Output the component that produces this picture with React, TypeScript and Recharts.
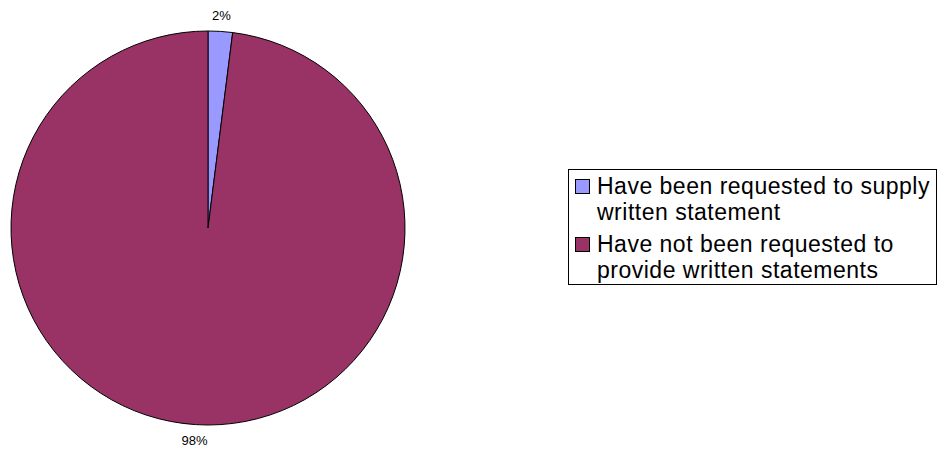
import { PieChart, Pie, Cell, Legend } from 'recharts';

const categories = [
  'Have been requested to supply written statement',
  'Have not been requested to provide written statements',
];
const legendLines = [
  ['Have been requested to supply', 'written statement'],
  ['Have not been requested to', 'provide written statements'],
];
const shares = [2, 98];
const sliceColors = ['#9999FF', '#993366'];

const data = categories.map((name, i) => ({ name, value: shares[i] }));

const RADIAN = Math.PI / 180;

function renderLabel(props: any) {
  const { cx, cy, midAngle, outerRadius, value } = props;
  const r = outerRadius + 16;
  const x = cx + r * Math.cos(-midAngle * RADIAN);
  const y = cy + r * Math.sin(-midAngle * RADIAN);
  return (
    <text
      x={x}
      y={y}
      textAnchor="middle"
      dominantBaseline="central"
      fill="#000"
      fontSize={13}
      fontFamily="Liberation Sans, Arial, sans-serif"
    >
      {`${value}%`}
    </text>
  );
}

function LegendBox() {
  return (
    <div
      style={{
        border: '1px solid #000',
        background: '#fff',
        padding: '3px 0 1px 6px',
        fontFamily: 'Liberation Sans, Arial, sans-serif',
        fontSize: 23,
        letterSpacing: '0.5px',
        lineHeight: '26px',
        color: '#000',
        boxSizing: 'border-box',
        width: 369,
      }}
    >
      {legendLines.map((lines, i) => (
        <div key={i} style={{ display: 'flex', alignItems: 'flex-start', marginTop: i ? 6 : 0 }}>
          <span
            style={{
              display: 'inline-block',
              width: 15,
              height: 15,
              border: '1px solid #000',
              background: sliceColors[i],
              marginTop: 6,
              marginRight: 7,
              boxSizing: 'border-box',
              flex: 'none',
            }}
          />
          <div>
            {lines.map((l, j) => (
              <div key={j} style={{ whiteSpace: 'nowrap' }}>{l}</div>
            ))}
          </div>
        </div>
      ))}
    </div>
  );
}

export default function App() {
  return (
    <div style={{ position: 'absolute', left: 0, top: 0, background: '#fff' }}>
      <PieChart width={937} height={451} margin={{ top: 0, right: 0, bottom: 0, left: 0 }}>
        <Pie
          data={data}
          dataKey="value"
          nameKey="name"
          cx={208}
          cy={228}
          outerRadius={197}
          startAngle={90}
          endAngle={-270}
          stroke="#000"
          strokeWidth={1}
          label={renderLabel}
          labelLine={false}
          isAnimationActive={false}
        >
          {data.map((d, i) => (
            <Cell key={d.name} fill={sliceColors[i]} />
          ))}
        </Pie>
        <Legend
          content={() => <LegendBox />}
          wrapperStyle={{ left: 568, top: 169, width: 369, bottom: 'auto', right: 'auto' }}
        />
      </PieChart>
    </div>
  );
}
